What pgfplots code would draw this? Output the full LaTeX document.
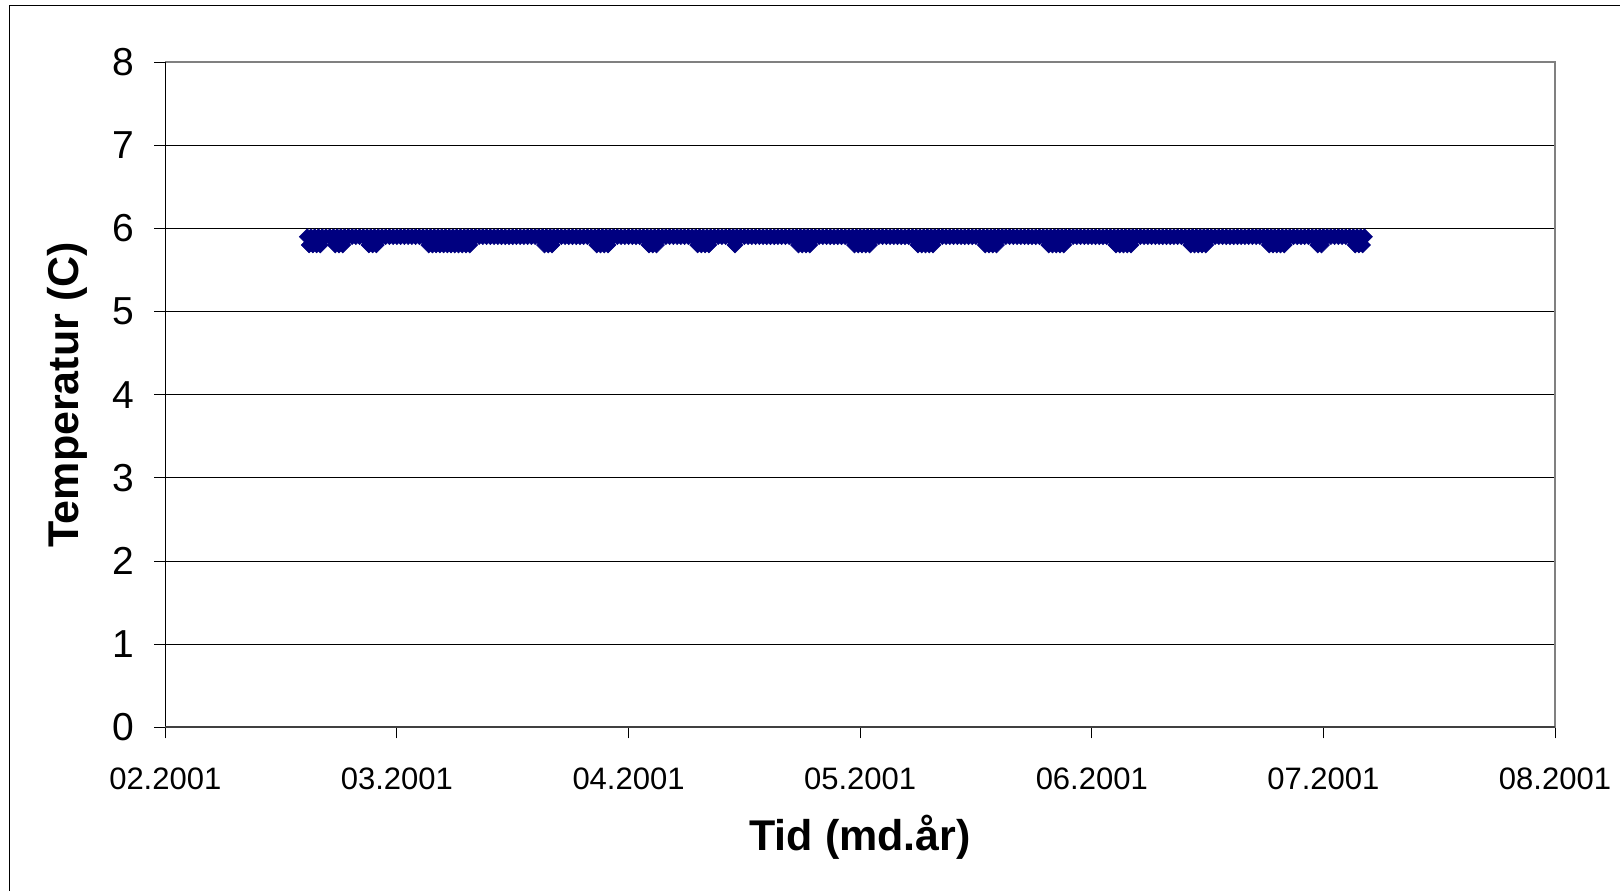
\documentclass[border=0pt]{standalone}
\usepackage{fontspec}
\setmainfont{Liberation Sans}
\usepackage{pgfplots}
\usepackage{pgfplotstable}
\pgfplotsset{compat=1.18}

\definecolor{navy}{RGB}{0,0,128}
\definecolor{plotframe}{RGB}{128,128,128}
\definecolor{baseaxis}{RGB}{64,64,64}

% Logged water temperature; t = days after 1 Feb 2001, T in degrees C
\pgfplotstableread[row sep=\\]{
t T\\
19.0 5.9\\ 19.5 5.9\\ 20.0 5.9\\ 20.5 5.9\\ 21.0 5.9\\ 21.5 5.9\\ 22.0 5.9\\ 22.5 5.9\\ 23.0 5.9\\ 23.5 5.9\\
24.0 5.9\\ 24.5 5.9\\ 25.0 5.9\\ 25.5 5.9\\ 26.0 5.9\\ 26.5 5.9\\ 27.0 5.9\\ 27.5 5.9\\ 28.0 5.9\\ 28.5 5.9\\
29.0 5.9\\ 29.5 5.9\\ 30.0 5.9\\ 30.5 5.9\\ 31.0 5.9\\ 31.5 5.9\\ 32.0 5.9\\ 32.5 5.9\\ 33.0 5.9\\ 33.5 5.9\\
34.0 5.9\\ 34.5 5.9\\ 35.0 5.9\\ 35.5 5.9\\ 36.0 5.9\\ 36.5 5.9\\ 37.0 5.9\\ 37.5 5.9\\ 38.0 5.9\\ 38.5 5.9\\
39.0 5.9\\ 39.5 5.9\\ 40.0 5.9\\ 40.5 5.9\\ 41.0 5.9\\ 41.5 5.9\\ 42.0 5.9\\ 42.5 5.9\\ 43.0 5.9\\ 43.5 5.9\\
44.0 5.9\\ 44.5 5.9\\ 45.0 5.9\\ 45.5 5.9\\ 46.0 5.9\\ 46.5 5.9\\ 47.0 5.9\\ 47.5 5.9\\ 48.0 5.9\\ 48.5 5.9\\
49.0 5.9\\ 49.5 5.9\\ 50.0 5.9\\ 50.5 5.9\\ 51.0 5.9\\ 51.5 5.9\\ 52.0 5.9\\ 52.5 5.9\\ 53.0 5.9\\ 53.5 5.9\\
54.0 5.9\\ 54.5 5.9\\ 55.0 5.9\\ 55.5 5.9\\ 56.0 5.9\\ 56.5 5.9\\ 57.0 5.9\\ 57.5 5.9\\ 58.0 5.9\\ 58.5 5.9\\
59.0 5.9\\ 59.5 5.9\\ 60.0 5.9\\ 60.5 5.9\\ 61.0 5.9\\ 61.5 5.9\\ 62.0 5.9\\ 62.5 5.9\\ 63.0 5.9\\ 63.5 5.9\\
64.0 5.9\\ 64.5 5.9\\ 65.0 5.9\\ 65.5 5.9\\ 66.0 5.9\\ 66.5 5.9\\ 67.0 5.9\\ 67.5 5.9\\ 68.0 5.9\\ 68.5 5.9\\
69.0 5.9\\ 69.5 5.9\\ 70.0 5.9\\ 70.5 5.9\\ 71.0 5.9\\ 71.5 5.9\\ 72.0 5.9\\ 72.5 5.9\\ 73.0 5.9\\ 73.5 5.9\\
74.0 5.9\\ 74.5 5.9\\ 75.0 5.9\\ 75.5 5.9\\ 76.0 5.9\\ 76.5 5.9\\ 77.0 5.9\\ 77.5 5.9\\ 78.0 5.9\\ 78.5 5.9\\
79.0 5.9\\ 79.5 5.9\\ 80.0 5.9\\ 80.5 5.9\\ 81.0 5.9\\ 81.5 5.9\\ 82.0 5.9\\ 82.5 5.9\\ 83.0 5.9\\ 83.5 5.9\\
84.0 5.9\\ 84.5 5.9\\ 85.0 5.9\\ 85.5 5.9\\ 86.0 5.9\\ 86.5 5.9\\ 87.0 5.9\\ 87.5 5.9\\ 88.0 5.9\\ 88.5 5.9\\
89.0 5.9\\ 89.5 5.9\\ 90.0 5.9\\ 90.5 5.9\\ 91.0 5.9\\ 91.5 5.9\\ 92.0 5.9\\ 92.5 5.9\\ 93.0 5.9\\ 93.5 5.9\\
94.0 5.9\\ 94.5 5.9\\ 95.0 5.9\\ 95.5 5.9\\ 96.0 5.9\\ 96.5 5.9\\ 97.0 5.9\\ 97.5 5.9\\ 98.0 5.9\\ 98.5 5.9\\
99.0 5.9\\ 99.5 5.9\\ 100.0 5.9\\ 100.5 5.9\\ 101.0 5.9\\ 101.5 5.9\\ 102.0 5.9\\ 102.5 5.9\\ 103.0 5.9\\ 103.5 5.9\\
104.0 5.9\\ 104.5 5.9\\ 105.0 5.9\\ 105.5 5.9\\ 106.0 5.9\\ 106.5 5.9\\ 107.0 5.9\\ 107.5 5.9\\ 108.0 5.9\\ 108.5 5.9\\
109.0 5.9\\ 109.5 5.9\\ 110.0 5.9\\ 110.5 5.9\\ 111.0 5.9\\ 111.5 5.9\\ 112.0 5.9\\ 112.5 5.9\\ 113.0 5.9\\ 113.5 5.9\\
114.0 5.9\\ 114.5 5.9\\ 115.0 5.9\\ 115.5 5.9\\ 116.0 5.9\\ 116.5 5.9\\ 117.0 5.9\\ 117.5 5.9\\ 118.0 5.9\\ 118.5 5.9\\
119.0 5.9\\ 119.5 5.9\\ 120.0 5.9\\ 120.5 5.9\\ 121.0 5.9\\ 121.5 5.9\\ 122.0 5.9\\ 122.5 5.9\\ 123.0 5.9\\ 123.5 5.9\\
124.0 5.9\\ 124.5 5.9\\ 125.0 5.9\\ 125.5 5.9\\ 126.0 5.9\\ 126.5 5.9\\ 127.0 5.9\\ 127.5 5.9\\ 128.0 5.9\\ 128.5 5.9\\
129.0 5.9\\ 129.5 5.9\\ 130.0 5.9\\ 130.5 5.9\\ 131.0 5.9\\ 131.5 5.9\\ 132.0 5.9\\ 132.5 5.9\\ 133.0 5.9\\ 133.5 5.9\\
134.0 5.9\\ 134.5 5.9\\ 135.0 5.9\\ 135.5 5.9\\ 136.0 5.9\\ 136.5 5.9\\ 137.0 5.9\\ 137.5 5.9\\ 138.0 5.9\\ 138.5 5.9\\
139.0 5.9\\ 139.5 5.9\\ 140.0 5.9\\ 140.5 5.9\\ 141.0 5.9\\ 141.5 5.9\\ 142.0 5.9\\ 142.5 5.9\\ 143.0 5.9\\ 143.5 5.9\\
144.0 5.9\\ 144.5 5.9\\ 145.0 5.9\\ 145.5 5.9\\ 146.0 5.9\\ 146.5 5.9\\ 147.0 5.9\\ 147.5 5.9\\ 148.0 5.9\\ 148.5 5.9\\
149.0 5.9\\ 149.5 5.9\\ 150.0 5.9\\ 150.5 5.9\\ 151.0 5.9\\ 151.5 5.9\\ 152.0 5.9\\ 152.5 5.9\\ 153.0 5.9\\ 153.5 5.9\\
154.0 5.9\\ 154.5 5.9\\ 155.0 5.9\\ 155.5 5.9\\ 156.0 5.9\\ 156.5 5.9\\ 157.0 5.9\\ 157.5 5.9\\ 158.0 5.9\\ 158.5 5.9\\
159.0 5.9\\ 159.5 5.9\\ 160.0 5.9\\ 160.5 5.9\\
19.25 5.8\\ 19.75 5.8\\ 20.25 5.8\\ 20.75 5.8\\
22.75 5.8\\ 23.25 5.8\\ 23.75 5.8\\
27.25 5.8\\ 27.75 5.8\\ 28.25 5.8\\
35.25 5.8\\ 35.75 5.8\\ 36.25 5.8\\ 36.75 5.8\\ 37.25 5.8\\ 37.75 5.8\\
38.25 5.8\\ 38.75 5.8\\ 39.25 5.8\\ 39.75 5.8\\ 40.25 5.8\\ 40.75 5.8\\
50.75 5.8\\ 51.25 5.8\\ 51.75 5.8\\
57.75 5.8\\ 58.25 5.8\\ 58.75 5.8\\ 59.25 5.8\\
64.75 5.8\\ 65.25 5.8\\ 65.75 5.8\\
71.25 5.8\\ 71.75 5.8\\ 72.25 5.8\\ 72.75 5.8\\
76.25 5.8\\
84.75 5.8\\ 85.25 5.8\\ 85.75 5.8\\ 86.25 5.8\\
92.25 5.8\\ 92.75 5.8\\ 93.25 5.8\\ 93.75 5.8\\ 94.25 5.8\\
100.75 5.8\\ 101.25 5.8\\ 101.75 5.8\\ 102.25 5.8\\ 102.75 5.8\\
109.75 5.8\\ 110.25 5.8\\ 110.75 5.8\\ 111.25 5.8\\
118.25 5.8\\ 118.75 5.8\\ 119.25 5.8\\ 119.75 5.8\\ 120.25 5.8\\
127.25 5.8\\ 127.75 5.8\\ 128.25 5.8\\ 128.75 5.8\\ 129.25 5.8\\
137.25 5.8\\ 137.75 5.8\\ 138.25 5.8\\ 138.75 5.8\\ 139.25 5.8\\
147.75 5.8\\ 148.25 5.8\\ 148.75 5.8\\ 149.25 5.8\\ 149.75 5.8\\
154.25 5.8\\ 154.75 5.8\\
159.25 5.8\\ 159.75 5.8\\ 160.25 5.8\\
}\tempdata

\begin{document}
\begin{tikzpicture}
\path[use as bounding box] (0pt,0pt) rectangle (810pt,445pt);
% chart area frame (open at right and bottom)
\begin{scope}
\clip (0pt,0pt) rectangle (810pt,445pt);
\draw[line width=0.75pt, black] (4.65pt,-10pt) -- (4.65pt,442.15pt) -- (830pt,442.15pt);
\end{scope}
\begin{axis}[
  at={(82.65pt,81.3pt)}, anchor=south west,
  scale only axis, width=694.85pt, height=332.7pt,
  xmin=0, xmax=186, ymin=0, ymax=8,
  xtick={0,31,62,93,124,155,186},
  xticklabels={02.2001,03.2001,04.2001,05.2001,06.2001,07.2001,08.2001},
  ytick={0,1,2,3,4,5,6,7,8},
  tick pos=left, tick align=outside,
  major tick length=5.5pt,
  tick style={black, line width=0.5pt},
  ymajorgrids, grid style={black, line width=0.5pt},
  axis line style={plotframe, line width=0.6pt},
  yticklabel style={font=\fontsize{19.5}{20}\selectfont, anchor=east, inner sep=0pt,
    xshift=-10pt, /pgf/number format/assume math mode=true},
  xticklabel style={font=\fontsize{15.5}{16}\selectfont, anchor=north, inner sep=0pt,
    yshift=-14.5pt},
  xlabel={Tid (md.år)}, ylabel={Temperatur (C)},
  label style={font=\bfseries\fontsize{21.5}{24}\selectfont},
  xlabel style={at={(axis description cs:0.5,-0.1647)}, anchor=center},
  ylabel style={at={(axis description cs:-0.0705,0.5)}, anchor=center},
  clip=false,
]
\addplot[only marks, color=navy, mark=square*, mark size=2.8pt,
  mark options={rotate=45, fill=navy, draw=navy, line width=0.3pt}]
  table[x=t, y=T] {\tempdata};
\draw[black, line width=0.5pt] (rel axis cs:0,1) -- (rel axis cs:0,0);
\draw[baseaxis, line width=1pt] (rel axis cs:0,0) -- (rel axis cs:1,0);
\end{axis}
\end{tikzpicture}
\end{document}
